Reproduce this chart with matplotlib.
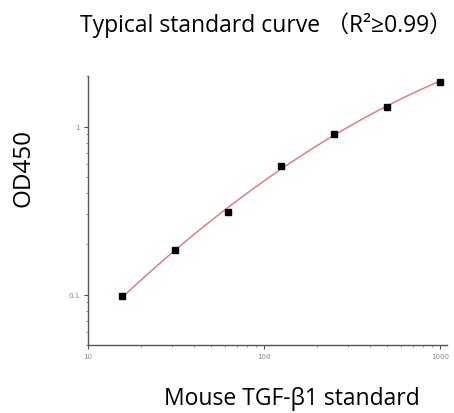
import numpy as np
import matplotlib.pyplot as plt
from matplotlib.ticker import LogLocator, FixedFormatter, FixedLocator, NullFormatter

# standard concentrations and measured OD450
conc = [15.6, 31.25, 62.5, 125, 250, 500, 1000]
od = [0.098, 0.183, 0.308, 0.586, 0.908, 1.315, 1.85]

title = "Typical standard curve （R²≥0.99）"
xlabel = "Mouse TGF-β1 standard"
ylabel = "OD450"

fig = plt.figure(figsize=(4.54, 4.14), dpi=100)
ax = fig.add_axes([0.194, 0.164, 0.791, 0.650])

# fitted curve: quadratic in log-log space
lx = np.log10(conc)
ly = np.log10(od)
coef = np.polyfit(lx, ly, 2)
xs = np.linspace(lx[0], lx[-1], 200)
ax.plot(10 ** xs, 10 ** np.polyval(coef, xs), color='#e57373', lw=1.0, zorder=2)
ax.plot(conc, od, 's', color='black', ms=4.2, zorder=3)

ax.set_xscale('log')
ax.set_yscale('log')
ax.set_xlim(10, 1100)
ax.set_ylim(0.05, 2.0)

for s in ['top', 'right']:
    ax.spines[s].set_visible(False)
for s in ['left', 'bottom']:
    ax.spines[s].set_color('#555555')
    ax.spines[s].set_linewidth(1.0)

ax.xaxis.set_major_locator(FixedLocator([10, 100, 1000]))
ax.xaxis.set_major_formatter(FixedFormatter(['10', '100', '1000']))
ax.yaxis.set_major_locator(FixedLocator([0.1, 1]))
ax.yaxis.set_major_formatter(FixedFormatter(['0.1', '1']))
ax.xaxis.set_minor_locator(LogLocator(base=10, subs=np.arange(2, 10)))
ax.yaxis.set_minor_locator(LogLocator(base=10, subs=np.arange(2, 10)))
ax.xaxis.set_minor_formatter(NullFormatter())
ax.yaxis.set_minor_formatter(NullFormatter())
ax.tick_params(which='major', length=3, width=0.8, color='#555555',
               labelsize=5, labelcolor='#888888', pad=3)
ax.tick_params(which='minor', length=1.5, width=0.6, color='#777777')

fonts = ['Open Sans', 'Noto Sans CJK SC', 'DejaVu Sans']
fig.text(0.585, 0.923, title, ha='center', va='baseline', fontsize=16.5, family=fonts)
fig.text(0.643, 0.022, xlabel, ha='center', va='baseline', fontsize=16.5, family=fonts)
fig.text(0.051, 0.594, ylabel, ha='center', va='center', rotation=90, fontsize=17.5, family=fonts)

fig.savefig('out.png', dpi=100)
